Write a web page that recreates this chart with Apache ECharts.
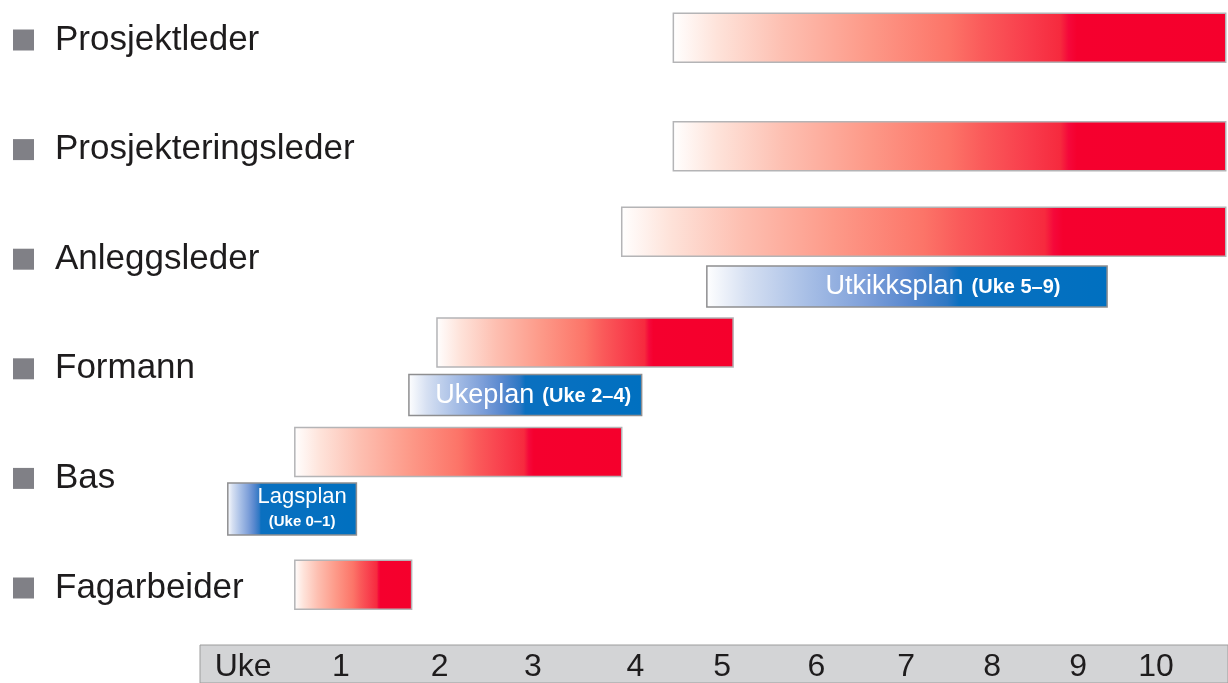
<!DOCTYPE html>
<html>
<head>
<meta charset="utf-8">
<script src="https://cdn.jsdelivr.net/npm/echarts@6/dist/echarts.min.js"></script>
<style>
html,body{margin:0;padding:0;background:#fff;}
#chart{width:1228px;height:683px;}
</style>
</head>
<body>
<div id="chart"></div>
<script>
// ---- data ----
const roles = ['Prosjektleder','Prosjekteringsleder','Anleggsleder','Formann','Bas','Fagarbeider'];
const roleRows = [0,1,2,3,4,5];
const roleBarStart = [4.67, 4.67, 4.10, 2.06, 0.49, 0.49];
const roleBarEnd   = [10.77, 10.77, 10.77, 5.33, 4.10, 1.78];
const roleBarRow   = [-0.02, 0.97, 1.75, 2.76, 3.76, 4.97];

const planNames = ['Utkikksplan','Ukeplan','Lagsplan'];
const planWeeks = ['(Uke 5–9)','(Uke 2–4)','(Uke 0–1)'];
const planStart = [5.04, 1.75, -0.25];
const planEnd   = [9.46, 4.32, 1.17];
const planRow   = [2.25, 3.24, 4.28];

const weekTickLabels = ['Uke','1','2','3','4','5','6','7','8','9','10'];
const weekTickPos    = [-0.08, 1, 2.09, 3.12, 4.25, 5.21, 6.25, 7.24, 8.19, 9.14, 10];

// ---- styles ----
const FONT = '"Liberation Sans", Arial, Helvetica, sans-serif';
const planFade = [0.63, 0.5, 0.26];
const planTextShift = [36, 8, 10];

const redStops = [
  [0,'#ffffff'],[0.08,'#fee3da'],[0.2,'#fdbfb1'],[0.35,'#fd9a89'],[0.5,'#fc7468'],
  [0.56,'#fa5a5a'],[0.65,'#f83a4a'],[0.7,'#f62a3e'],[0.715,'#f5083a'],[0.73,'#f5002e'],[1,'#f5002c']
];
const blueStopsBase = [
  [0,'#ffffff'],[0.1,'#d6e0f2'],[0.25,'#a8bfe6'],[0.4,'#7d9fd9'],[0.5,'#5a89cf'],[0.6,'#2e78c4'],[0.63,'#0a70c0']
];
function grad(stops){
  return {type:'linear',x:0,y:0,x2:1,y2:0,colorStops:stops.map(s=>({offset:s[0],color:s[1]}))};
}
function blueGrad(f){
  const st = blueStopsBase.map(s=>[s[0]*f/0.63, s[1]]);
  st.push([1,'#0070c0']);
  return grad(st);
}

const roleData = roles.map((r,i)=>[roleBarStart[i], roleBarEnd[i], roleBarRow[i]]);
const planData = planNames.map((p,i)=>[planStart[i], planEnd[i], planRow[i]]);

const chart = echarts.init(document.getElementById('chart'), null, {renderer:'canvas'});
chart.setOption({
  animation:false,
  backgroundColor:'#ffffff',
  textStyle:{fontFamily:FONT},
  grid:[
    {left:200,right:0,top:0,bottom:38,outerBoundsMode:'none',containLabel:false},
    {left:200,right:0,top:645,bottom:0,show:true,backgroundColor:'#d3d4d6',borderColor:'#9c9c9c',borderWidth:1,outerBoundsMode:'none',containLabel:false}
  ],
  xAxis:[
    {type:'value',gridIndex:0,min:-0.557,max:10.795,position:'bottom',
     axisLine:{show:false},axisTick:{show:false},splitLine:{show:false},
     axisLabel:{customValues:weekTickPos,margin:22,verticalAlign:'middle',
       fontFamily:FONT,fontSize:32,color:'#1e1c1d',
       formatter:(v)=>{const i=weekTickPos.indexOf(v);return i>=0?weekTickLabels[i]:'';}}},
    {type:'value',gridIndex:1,min:0,max:1,show:false}
  ],
  yAxis:[
    {type:'value',gridIndex:0,inverse:true,min:-0.365,max:5.52,position:'left',
     axisLine:{show:false},axisTick:{show:false},splitLine:{show:false},
     axisLabel:{customValues:roleRows,margin:187,align:'left',verticalAlign:'middle',
       formatter:(v)=>'{sq|}{t|'+roles[roleRows.indexOf(v)]+'}',
       rich:{
         sq:{width:21,height:21,backgroundColor:'#808086'},
         t:{fontFamily:FONT,fontSize:35,color:'#1e1c1d',padding:[0,0,0,21]}
       }}},
    {type:'value',gridIndex:1,min:0,max:1,show:false}
  ],
  series:[
    {
      type:'custom',name:'roles',xAxisIndex:0,yAxisIndex:0,
      data:roleData,encode:{x:[0,1],y:2},
      renderItem:(params,api)=>{
        const s=api.coord([api.value(0),api.value(2)]);
        const e=api.coord([api.value(1),api.value(2)]);
        const h=49;
        return {type:'rect',shape:{x:s[0],y:s[1]-h/2,width:e[0]-s[0],height:h},
          style:{fill:grad(redStops),stroke:'#b4b4b6',lineWidth:1.5}};
      }
    },
    {
      type:'custom',name:'plans',xAxisIndex:0,yAxisIndex:0,
      data:planData,encode:{x:[0,1],y:2},
      renderItem:(params,api)=>{
        const i=params.dataIndex;
        const s=api.coord([api.value(0),api.value(2)]);
        const e=api.coord([api.value(1),api.value(2)]);
        const twoLine = (e[0]-s[0]) < 160;
        const h= twoLine ? 52 : 41;
        const txt = twoLine
          ? '{a2|'+planNames[i]+'}\n{b2|'+planWeeks[i]+'}'
          : '{a|'+planNames[i]+'}{b|'+planWeeks[i]+'}';
        return {type:'rect',shape:{x:s[0],y:s[1]-h/2,width:e[0]-s[0],height:h},
          style:{fill:blueGrad(planFade[i]),stroke:'#8e8e90',lineWidth:1.5},
          textContent:{style:{text:txt,align:'center',verticalAlign:'middle',fill:'#ffffff',
            rich:{
              a:{fontFamily:FONT,fontSize:27,fill:'#ffffff'},
              b:{fontFamily:FONT,fontSize:20,fontWeight:'bold',fill:'#ffffff',padding:[2,0,0,8]},
              a2:{fontFamily:FONT,fontSize:22,fill:'#ffffff',lineHeight:25,align:'center'},
              b2:{fontFamily:FONT,fontSize:15,fontWeight:'bold',fill:'#ffffff',lineHeight:25,align:'center'}
            }}},
          textConfig:{position:'inside',offset:[planTextShift[i],0]}};
      }
    }
  ]
});
</script>
</body>
</html>
